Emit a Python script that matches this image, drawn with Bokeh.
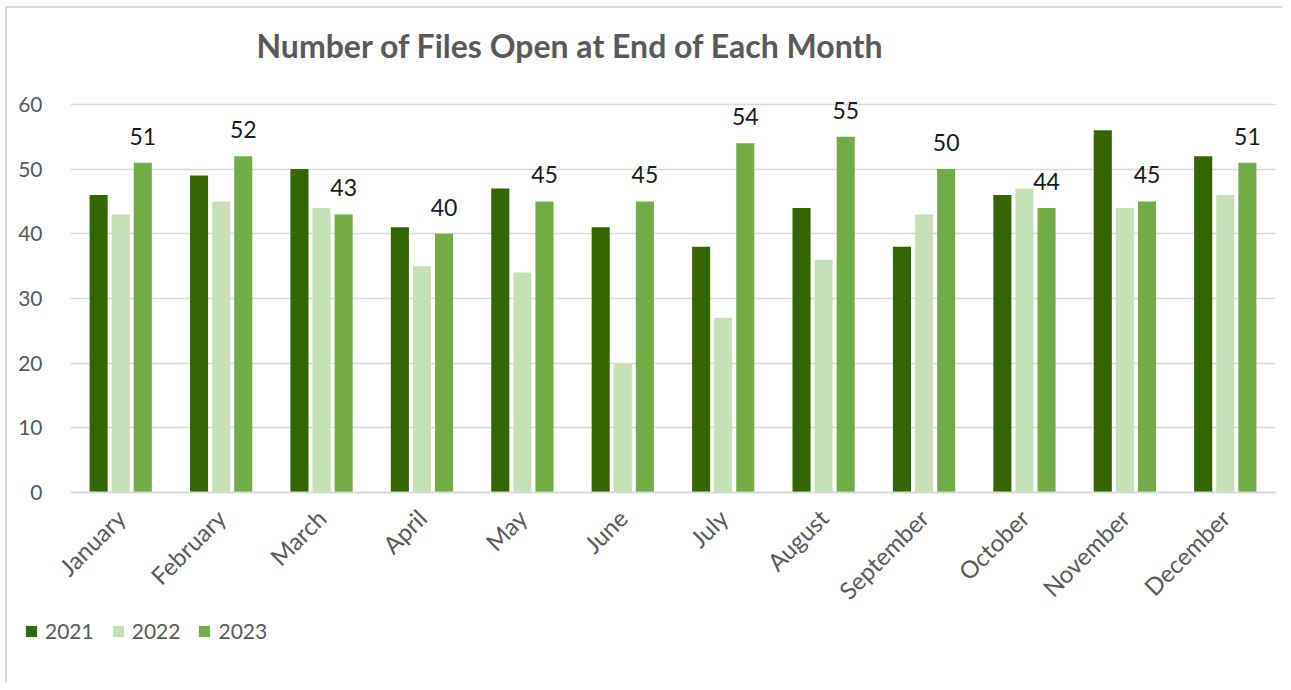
from math import pi
from bokeh.plotting import figure
from bokeh.layouts import column
from bokeh.models import (FactorRange, Range1d, Legend, LegendItem, Label,
                          ColumnDataSource, SingleIntervalTicker)
from bokeh.transform import dodge
from bokeh.core.properties import value
from bokeh.embed import file_html
from bokeh.resources import INLINE

months = ["January", "February", "March", "April", "May", "June", "July",
          "August", "September", "October", "November", "December"]
y2021 = [46, 49, 50, 41, 47, 41, 38, 44, 38, 46, 56, 52]
y2022 = [43, 45, 44, 35, 34, 20, 27, 36, 43, 47, 44, 46]
y2023 = [51, 52, 43, 40, 45, 45, 54, 55, 50, 44, 45, 51]
years = ["2021", "2022", "2023"]
colors = ["#336600", "#C5E0B4", "#70AD47"]
title_text = "Number of Files Open at End of Each Month"

FONT = "Lato"
GRAY = "#595959"
W = 1275


def strip(h):
    f = figure(width=W, height=h, output_backend="svg", toolbar_location=None,
               x_axis_location=None, y_axis_location=None,
               x_range=Range1d(0, W), y_range=Range1d(0, h),
               min_border=0, min_border_left=0, min_border_right=0,
               min_border_top=0, min_border_bottom=0)
    f.frame_align = False
    f.outline_line_color = None
    f.xgrid.grid_line_color = None
    f.ygrid.grid_line_color = None
    return f


# title strip
p0 = strip(60)
p0.add_layout(Label(x=249, y=23, text=title_text,
                    text_font=FONT, text_font_size="32px", text_font_style="bold",
                    text_color=GRAY, text_baseline="alphabetic"))

# main chart
src = ColumnDataSource(dict(month=months, y2021=y2021, y2022=y2022, y2023=y2023,
                            lbl=[str(v) for v in y2023]))

p = figure(width=W, height=550, x_range=FactorRange(*months, range_padding=0),
           y_range=Range1d(0, 62), output_backend="svg", toolbar_location=None,
           min_border_left=63, min_border_right=7, min_border_top=23,
           min_border_bottom=126)
p.frame_align = False
p.outline_line_color = None
p.background_fill_color = "white"
p.border_fill_color = "white"

for col, off, c in zip(["y2021", "y2022", "y2023"], [-0.22, 0.0, 0.22], colors):
    p.vbar(x=dodge("month", off, range=p.x_range), top=col, width=0.18,
           source=src, fill_color=c, line_color=None)

p.text(x=dodge("month", 0.22, range=p.x_range), y="y2023", text="lbl", source=src,
       text_align="center", text_baseline="bottom", y_offset=-18,
       text_font=value(FONT), text_font_size="23px", text_color="#1a1a1a")

p.xgrid.grid_line_color = None
p.ygrid.grid_line_color = "#D9D9D9"
p.ygrid.grid_line_width = 1.5

xa = p.xaxis[0]
xa.axis_line_color = "#D9D9D9"
xa.axis_line_width = 2
xa.major_tick_line_color = None
xa.minor_tick_line_color = None
xa.major_label_orientation = pi / 4
xa.major_label_text_font = FONT
xa.major_label_text_font_size = "24px"
xa.major_label_text_color = GRAY
xa.major_label_standoff = 15

ya = p.yaxis[0]
ya.ticker = SingleIntervalTicker(interval=10)
ya.axis_line_color = None
ya.major_tick_line_color = None
ya.minor_tick_line_color = None
ya.major_label_text_font = FONT
ya.major_label_text_font_size = "21px"
ya.major_label_text_color = GRAY
ya.major_label_standoff = 22

# legend strip
p2 = strip(64)
dummies = [p2.vbar(x=[-1000], top=[0], width=1, fill_color=c, line_color=None)
           for c in colors]
legend = Legend(items=[LegendItem(label=y, renderers=[r]) for y, r in zip(years, dummies)],
                orientation="horizontal", location=(17, 39),
                padding=0, margin=0, spacing=17, glyph_width=14, glyph_height=14,
                label_standoff=7, label_text_font=FONT, label_text_font_size="21px",
                label_text_color=GRAY, border_line_color=None, background_fill_alpha=0)
p2.add_layout(legend, "center")

layout = column(p0, p, p2, spacing=0,
                styles={"border-left": "2px solid #D9D9D9", "border-top": "2px solid #D9D9D9",
                        "margin-left": "5px", "margin-top": "6px"})

open("out.html", "w").write(file_html(layout, INLINE))
